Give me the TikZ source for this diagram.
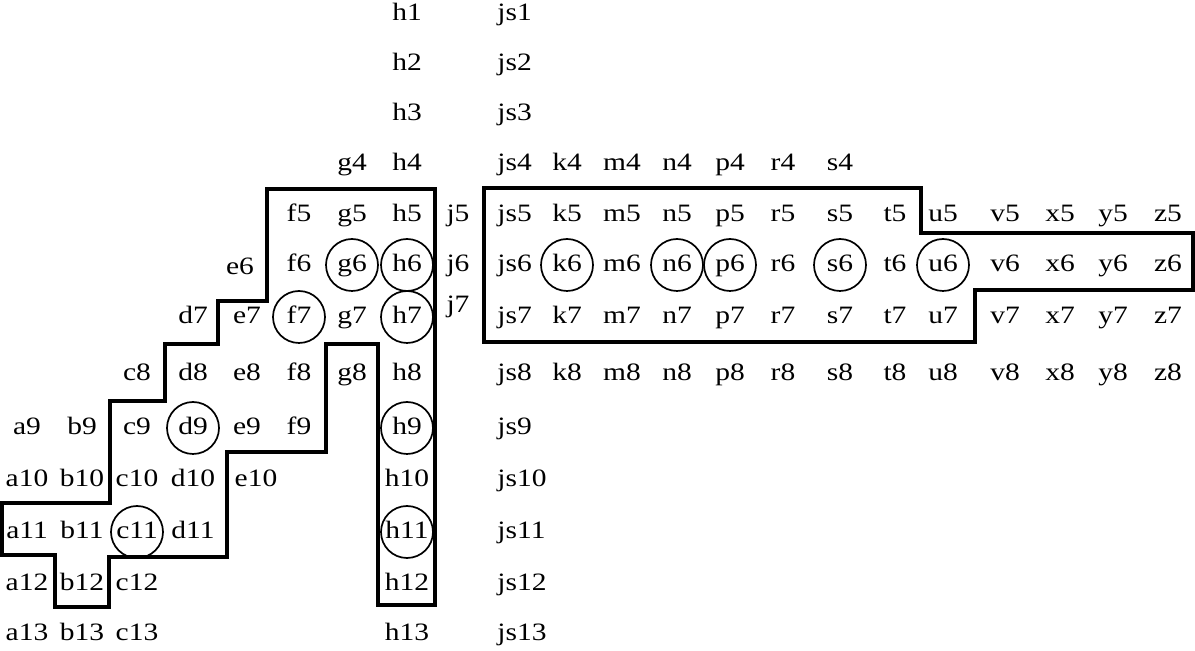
\documentclass[tikz,border=0pt]{standalone}
\usepackage{fontspec}
\setmainfont{Liberation Serif}

\begin{document}
\begin{tikzpicture}[
            x=0.5pt, y=-0.5pt,
            lbl/.style={font=\fontsize{12.5}{14}\selectfont, xscale=1.18, inner sep=0pt,
                    text height=1.6ex, text depth=0.25ex},
            outline/.style={line width=1.6pt, line join=miter},
            ring/.style={line width=0.85pt}
        ]

        \useasboundingbox (0,0) rectangle (1195,651);

        % column positions
        \foreach \n/\x in {a/27, b/82, c/137, d/193, e/247, f/299, g/352, h/407, j/458,
                k/567, m/622, n/677, p/730, r/783, s/840, t/895, u/943,
                v/1005, x/1060, y/1113, z/1168}
            \coordinate (col-\n) at (\x,0);

        % labels, row by row
        \foreach \r/\yy/\cols in {
                1/14/{h},
                2/64/{h},
                3/114/{h},
                4/164/{g,h,k,m,n,p,r,s},
                5/215/{f,g,h,j,k,m,n,p,r,s,t,u,v,x,y,z},
                6/265/{f,g,h,j,k,m,n,p,r,s,t,u,v,x,y,z},
                7/317/{d,e,f,g,h,k,m,n,p,r,s,t,u,v,x,y,z},
                8/374/{c,d,e,f,g,h,k,m,n,p,r,s,t,u,v,x,y,z},
                9/428/{a,b,c,d,e,f,h},
                10/480/{a,b,c,d,h},
                11/532/{a,b,c,d,h},
                12/584/{a,b,c,h},
                13/634/{a,b,c,h}}
            \foreach \n in \cols
                \node[lbl] (\n\r) at (col-\n |- 0,\yy) {\n\r};

        % js column is set flush left
        \foreach \r/\yy in {1/14, 2/64, 3/114, 4/164, 5/215, 6/265, 7/317, 8/374,
                9/428, 10/480, 11/532, 12/584, 13/634}
            \node[lbl, anchor=west] (js\r) at (497,\yy) {js\r};

        % odd ones out
        \node[lbl] (e6) at (240,268) {e6};
        \node[lbl] (e10) at (256,480) {e10};
        \node[lbl] (j7) at (col-j |- 0,306) {j7};

        % left outline
        \draw[outline] (267,189) -- (435,189) -- (435,605) -- (378,605) -- (378,344)
            -- (326,344) -- (326,452) -- (227,452) -- (227,557) -- (109,557)
            -- (109,607) -- (55,607) -- (55,555) -- (2,555) -- (2,503) -- (110,503)
            -- (110,401) -- (165,401) -- (165,344) -- (218,344) -- (218,301)
            -- (267,301) -- cycle;

        % right outline
        \draw[outline] (484,188) -- (921,188) -- (921,233) -- (1193,233) -- (1193,290)
            -- (975,290) -- (975,342) -- (484,342) -- cycle;

        % circled labels
        \foreach \n in {g6, h6, f7, h7, d9, h9, c11, h11, k6, n6, p6, s6, u6}
            \draw[ring] (\n) circle[radius=26];

    \end{tikzpicture}
\end{document}
